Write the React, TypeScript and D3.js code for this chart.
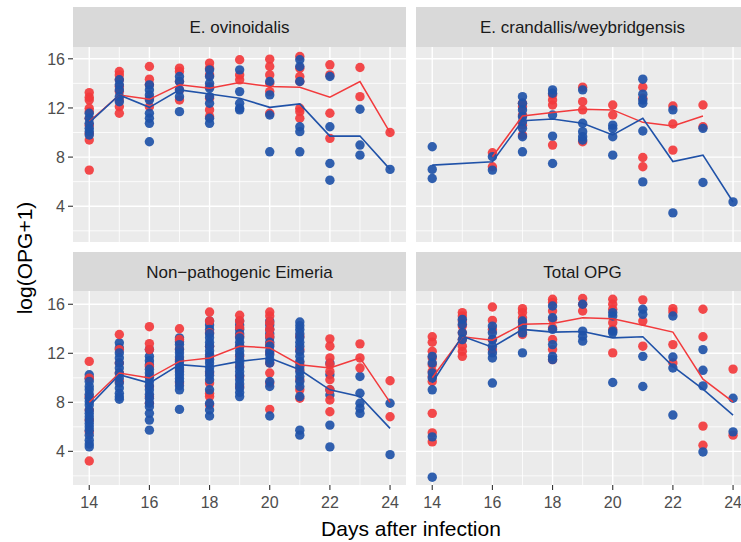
import React from 'react';
import * as d3 from 'd3';

const days = [14, 15, 16, 17, 18, 19, 20, 21, 22, 23, 24];
const panelTitles = ['E. ovinoidalis', 'E. crandallis/weybridgensis', 'Non\u2212pathogenic Eimeria', 'Total OPG'];
const yTicks = [4, 8, 12, 16];
const yMinor = [2, 6, 10, 14];
const xTicks = [14, 16, 18, 20, 22, 24];
const xMinor = [15, 17, 19, 21, 23];

// E. ovinoidalis
const ovinoRed = [
  [13.25, 12.87, 12.65, 11.97, 11.7, 11.16, 10.6, 9.93, 9.39, 6.94],
  [14.97, 14.69, 14.29, 13.74, 13.33, 12.65, 12.1, 11.57],
  [15.37, 14.34, 13.88, 12.79, 12.1],
  [15.24, 14.97, 14.15, 13.47, 12.65],
  [15.65, 15.24, 14.69, 13.74, 12.79, 11.84, 11.29],
  [15.92, 14.69, 14.29],
  [15.97, 15.37, 14.69, 14.01, 13.33, 11.57],
  [16.19, 15.24, 14.56, 14.15, 11.97, 11.7, 11.16],
  [15.51, 14.69, 11.57, 9.52],
  [15.29, 12.92],
  [10.0],
];
const ovinoBlue = [
  [11.57, 11.16, 10.75, 10.34, 10.07, 9.8],
  [14.29, 13.88, 13.47, 12.92, 12.51],
  [13.88, 13.47, 13.06, 12.65, 11.57, 11.16, 10.75, 9.25],
  [14.56, 14.15, 13.47, 12.92, 11.7],
  [15.1, 14.56, 14.01, 13.6, 12.92, 12.38, 11.16, 10.75],
  [15.1, 13.33, 12.38, 11.97, 11.84],
  [14.15, 13.06, 11.43, 8.43],
  [15.92, 15.37, 14.15, 10.47, 10.07, 8.43],
  [14.56, 10.47, 7.48, 6.12],
  [11.89, 8.98, 8.16],
  [7.0],
];
const ovinoMeanRed = [10.9, 13.06, 12.7, 13.88, 13.6, 14.07, 13.74, 13.69, 12.87, 14.15, 10.0];
const ovinoMeanBlue = [10.8, 13.06, 12.05, 13.47, 13.14, 12.79, 12.05, 12.33, 9.71, 9.71, 7.0];

// E. crandallis/weybridgensis
const crandRed = [
  [],
  [],
  [8.35, 7.21],
  [12.38, 12.1, 11.43, 10.6, 9.8],
  [13.06, 12.65, 12.24, 8.98],
  [13.69, 12.51, 11.84, 9.25],
  [12.24, 11.43],
  [13.69, 12.79, 7.97, 7.21],
  [12.16, 10.69, 8.57],
  [12.24, 10.47],
  [],
];
const crandBlue = [
  [8.84, 7.0, 6.26],
  [],
  [8.03, 6.94],
  [12.92, 12.38, 11.84, 11.29, 10.88, 10.34, 9.66, 8.43],
  [13.47, 13.2, 11.43, 9.71, 7.48],
  [13.47, 10.75, 10.07, 9.66, 9.39],
  [10.6, 10.34, 9.66, 8.16],
  [14.34, 13.12, 12.65, 12.38, 10.12, 5.98],
  [11.84, 3.46],
  [10.34, 5.93],
  [4.35],
];
const crandMeanRed = [null, null, 8.03, 11.35, 11.62, 11.89, 11.84, 10.83, 10.53, 11.35, null];
const crandMeanBlue = [7.35, null, 7.62, 10.96, 11.1, 10.75, 9.8, 11.16, 7.64, 8.16, 4.35];

// Non-pathogenic Eimeria
const nonRed = [
  [11.34, 9.97, 8.47, 7.37, 6.55, 5.59, 3.21],
  [13.53, 12.3, 11.21, 10.39, 9.7],
  [14.17, 12.79, 12.3, 10.93, 10.11, 9.29, 8.47, 7.92],
  [14.0, 13.12, 12.3, 11.48, 10.66, 9.57],
  [15.37, 14.63, 13.67, 12.58, 11.75, 10.39, 9.57, 8.74, 8.47, 7.78],
  [15.1, 14.63, 14.08, 13.4, 12.58, 11.75, 10.93, 10.11, 9.29],
  [15.37, 15.04, 14.5, 13.95, 13.4, 12.71, 12.03, 11.21, 10.39, 9.57, 7.42],
  [13.4, 12.3, 11.21, 10.66, 9.84, 9.02, 8.33],
  [13.18, 12.58, 11.62, 11.07, 10.52, 9.84, 9.02, 8.19, 7.23],
  [12.77, 11.62, 10.8],
  [9.76, 6.82],
];
const nonBlue = [
  [10.25, 9.95, 9.7, 9.3, 9.02, 8.65, 8.33, 8.05, 7.78, 7.37, 7.1, 6.82, 6.55, 6.28, 6.0, 5.73, 5.32, 4.91, 4.6, 4.36],
  [12.85, 12.44, 12.03, 11.62, 11.21, 10.8, 10.39, 9.98, 9.57, 9.16, 8.74, 8.45, 8.25],
  [12.3, 11.75, 11.4, 11.07, 10.7, 10.39, 10.05, 9.7, 9.35, 9.02, 8.65, 8.33, 7.95, 7.64, 7.1, 6.55, 5.73],
  [13.26, 12.95, 12.71, 12.35, 12.03, 11.7, 11.34, 11.05, 10.8, 10.5, 10.25, 9.95, 9.7, 9.35, 9.02, 7.42],
  [14.63, 14.3, 13.95, 13.6, 13.26, 12.9, 12.58, 12.2, 11.89, 11.5, 11.21, 10.85, 10.52, 10.2, 9.84, 9.02, 7.92, 7.37, 6.88],
  [14.63, 14.3, 13.95, 13.6, 13.26, 12.9, 12.58, 12.2, 11.89, 11.5, 11.21, 10.85, 10.52, 10.2, 9.84, 9.5, 9.16, 8.8, 8.47],
  [14.63, 14.3, 13.95, 13.6, 13.26, 12.9, 12.58, 12.2, 11.89, 11.5, 11.21, 9.7, 9.29, 6.88],
  [14.55, 14.25, 13.95, 13.6, 13.26, 12.9, 12.58, 12.15, 11.75, 11.35, 10.93, 10.5, 10.11, 9.7, 9.29, 8.47, 5.73, 5.32],
  [11.21, 10.25, 9.02, 8.6, 6.14, 4.36],
  [10.11, 8.74, 7.92, 7.51, 7.1],
  [7.92, 3.73],
];
const nonMeanRed = [8.0, 10.39, 9.98, 11.34, 11.62, 12.58, 12.44, 11.07, 10.8, 11.62, 7.99];
const nonMeanBlue = [7.7, 10.25, 9.57, 11.07, 10.88, 11.34, 11.62, 10.66, 9.02, 8.47, 5.87];

// Total OPG
const totalRed = [
  [13.35, 12.9, 12.16, 11.62, 11.07, 10.52, 10.11, 9.7, 7.1, 5.51, 4.77],
  [15.32, 15.04, 14.63, 14.22, 13.67, 13.12, 12.58, 12.16, 11.75],
  [15.78, 14.68, 13.95, 13.12, 12.3],
  [15.64, 15.32, 14.9, 14.5, 13.95, 13.53],
  [16.41, 16.14, 15.45, 14.77, 14.08, 13.12, 12.3, 11.48],
  [16.47, 16.0, 15.45],
  [16.41, 16.0, 15.59, 14.5, 13.95, 12.03],
  [16.36, 14.63, 12.58],
  [15.64, 15.37, 12.71, 11.21],
  [15.59, 13.35, 6.06, 4.5],
  [10.71, 5.32],
];
const totalBlue = [
  [11.75, 11.21, 10.39, 9.98, 9.02, 5.18, 1.89],
  [14.77, 14.36, 13.67, 13.12],
  [14.22, 13.67, 13.12, 12.58, 12.03, 11.62, 9.57],
  [14.63, 14.22, 13.67, 12.03],
  [15.86, 14.9, 13.95, 12.71, 11.75, 11.48],
  [16.0, 13.81, 13.4, 12.99],
  [15.32, 15.04, 13.81, 13.67, 9.62],
  [15.59, 15.18, 11.75, 9.29],
  [15.04, 11.7, 10.8, 6.96],
  [12.3, 10.61, 9.34, 3.95],
  [8.33, 5.59],
];
const totalMeanRed = [10.0, 13.35, 13.07, 14.36, 14.44, 14.9, 14.82, 14.28, 13.73, 9.89, 8.03];
const totalMeanBlue = [9.6, 13.4, 12.5, 13.95, 13.73, 13.78, 13.26, 13.35, 10.93, 9.07, 6.96];

const panels = [
  { title: panelTitles[0], red: ovinoRed, blue: ovinoBlue, mRed: ovinoMeanRed, mBlue: ovinoMeanBlue, mix: false },
  { title: panelTitles[1], red: crandRed, blue: crandBlue, mRed: crandMeanRed, mBlue: crandMeanBlue, mix: false },
  { title: panelTitles[2], red: nonRed, blue: nonBlue, mRed: nonMeanRed, mBlue: nonMeanBlue, mix: true },
  { title: panelTitles[3], red: totalRed, blue: totalBlue, mRed: totalMeanRed, mBlue: totalMeanBlue, mix: false },
];

const RED = '#F23A3C';
const BLUE = '#2052A8';
const W = 741;
const H = 542;
const cols = [{ x0: 73, x1: 406 }, { x0: 416, x1: 749 }];
const rows = [
  { s0: 7, s1: 47, p0: 47, p1: 242, r0: 242, r1: 47 },
  { s0: 252, s1: 291, p0: 291, p1: 485, r0: 487, r1: 292.5 },
];
const FONT = '"Liberation Sans", Arial, Helvetica, sans-serif';

type Pt = { day: number; v: number; color: string; key: string };

function buildPoints(red: number[][], blue: number[][], mix: boolean): Pt[] {
  const out: Pt[] = [];
  if (!mix) {
    red.forEach((vals, i) => vals.forEach((v, j) => out.push({ day: days[i], v, color: RED, key: `r${i}-${j}` })));
    blue.forEach((vals, i) => vals.forEach((v, j) => out.push({ day: days[i], v, color: BLUE, key: `b${i}-${j}` })));
    return out;
  }
  days.forEach((d, i) => {
    const b = blue[i];
    const r = red[i];
    const n = Math.max(b.length, r.length);
    for (let j = 0; j < n; j++) {
      if (j < b.length) out.push({ day: d, v: b[j], color: BLUE, key: `b${i}-${j}` });
      if (j < r.length) out.push({ day: d, v: r[j], color: RED, key: `r${i}-${j}` });
    }
  });
  return out;
}

function Panel({ idx }: { idx: number }) {
  const p = panels[idx];
  const c = cols[idx % 2];
  const r = rows[Math.floor(idx / 2)];
  const x = d3.scaleLinear().domain([13.46, 24.53]).range([c.x0, c.x1]);
  const y = d3.scaleLinear().domain([1.09, 16.96]).range([r.r0, r.r1]);
  const showY = idx % 2 === 0;
  const showX = idx >= 2;
  const line = d3
    .line<[number, number]>()
    .x((d) => x(d[0]))
    .y((d) => y(d[1]));
  const pts = (arr: (number | null)[]) =>
    days.map((d, i) => [d, arr[i]] as [number, number | null]).filter((d) => d[1] !== null) as [number, number][];
  const clipId = `clip${idx}`;
  const points = buildPoints(p.red, p.blue, p.mix);
  return (
    <g>
      <defs>
        <clipPath id={clipId}>
          <rect x={c.x0} y={r.p0} width={c.x1 - c.x0} height={r.p1 - r.p0} />
        </clipPath>
      </defs>
      <rect x={c.x0} y={r.s0} width={c.x1 - c.x0} height={r.s1 - r.s0} fill="#D9D9D9" />
      <text
        x={(c.x0 + c.x1) / 2}
        y={(r.s0 + r.s1) / 2 + 6.3}
        textAnchor="middle"
        fontSize={17}
        fill="#1A1A1A"
        fontFamily={FONT}
      >
        {p.title}
      </text>
      <rect x={c.x0} y={r.p0} width={c.x1 - c.x0} height={r.p1 - r.p0} fill="#EBEBEB" />
      <g clipPath={`url(#${clipId})`}>
        {yMinor.map((t) => (
          <line key={'ym' + t} x1={c.x0} x2={c.x1} y1={y(t)} y2={y(t)} stroke="#fff" strokeWidth={0.8} />
        ))}
        {xMinor.map((t) => (
          <line key={'xm' + t} x1={x(t)} x2={x(t)} y1={r.p0} y2={r.p1} stroke="#fff" strokeWidth={0.8} />
        ))}
        {yTicks.map((t) => (
          <line key={'yM' + t} x1={c.x0} x2={c.x1} y1={y(t)} y2={y(t)} stroke="#fff" strokeWidth={1.4} />
        ))}
        {xTicks.map((t) => (
          <line key={'xM' + t} x1={x(t)} x2={x(t)} y1={r.p0} y2={r.p1} stroke="#fff" strokeWidth={1.4} />
        ))}
        {points.map((pt) => (
          <circle key={pt.key} cx={x(pt.day)} cy={y(pt.v)} r={4.7} fill={pt.color} fillOpacity={0.92} />
        ))}
        <path d={line(pts(p.mRed)) || ''} fill="none" stroke={RED} strokeWidth={1.5} />
        <path d={line(pts(p.mBlue)) || ''} fill="none" stroke={BLUE} strokeWidth={1.6} />
      </g>
      {showY &&
        yTicks.map((t) => (
          <g key={'yt' + t}>
            <line x1={c.x0 - 5} x2={c.x0} y1={y(t)} y2={y(t)} stroke="#333" strokeWidth={1.1} />
            <text
              x={c.x0 - 8}
              y={y(t)}
              dy="0.36em"
              textAnchor="end"
              fontSize={16}
              fill="#4D4D4D"
              fontFamily={FONT}
            >
              {t}
            </text>
          </g>
        ))}
      {showX &&
        xTicks.map((t) => (
          <g key={'xt' + t}>
            <line x1={x(t)} x2={x(t)} y1={r.p1} y2={r.p1 + 5} stroke="#333" strokeWidth={1.1} />
            <text x={x(t)} y={r.p1 + 23} textAnchor="middle" fontSize={16} fill="#4D4D4D" fontFamily={FONT}>
              {t}
            </text>
          </g>
        ))}
    </g>
  );
}

export default function App() {
  return (
    <svg
      width={W}
      height={H}
      viewBox={`0 0 ${W} ${H}`}
      style={{ position: 'absolute', left: 0, top: 0, background: '#fff' }}
    >
      <rect x={0} y={0} width={W} height={H} fill="#fff" />
      {panels.map((_, i) => (
        <Panel key={i} idx={i} />
      ))}
      <text
        transform={`translate(32, 258) rotate(-90)`}
        textAnchor="middle"
        fontSize={21}
        fill="#000"
        fontFamily={FONT}
      >
        log(OPG+1)
      </text>
      <text x={411} y={536} textAnchor="middle" fontSize={21} fill="#000" fontFamily={FONT}>
        Days after infection
      </text>
    </svg>
  );
}
